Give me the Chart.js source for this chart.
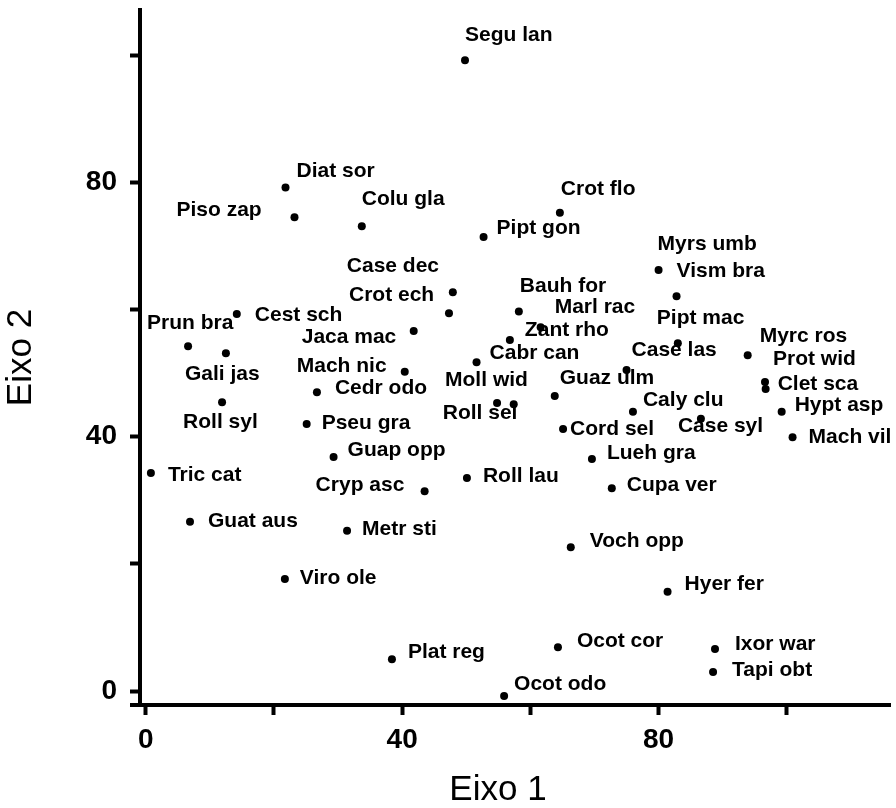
<!DOCTYPE html>
<html lang="pt">
<head>
  <meta charset="UTF-8" />
  <title>Eixo 1 x Eixo 2</title>
  <script src="https://cdn.jsdelivr.net/npm/chart.js"></script>
  <style>
    body {
      margin: 0;
      padding: 0;
      background: #fff;
    }
    #wrap {
      width: 896px;
      height: 808px;
    }
  </style>
</head>
<body>
  <div id="wrap">
    <canvas id="ordChart"></canvas>
  </div>

  <script>
    // species codes
    const species = [
      'Segu lan', 'Diat sor', 'Piso zap', 'Colu gla', 'Crot flo', 'Pipt gon',
      'Myrs umb', 'Vism bra', 'Case dec', 'Crot ech', 'Bauh for', 'Marl rac',
      'Cest sch', 'Prun bra', 'Pipt mac', 'Myrc ros', 'Zant rho', 'Jaca mac',
      'Cabr can', 'Case las', 'Prot wid', 'Mach nic', 'Gali jas', 'Moll wid',
      'Guaz ulm', 'Clet sca', 'Cedr odo', 'Caly clu', 'Hypt asp', 'Roll syl',
      'Roll sel', 'Cord sel', 'Case syl', 'Pseu gra', 'Mach vil', 'Guap opp',
      'Lueh gra', 'Tric cat', 'Cryp asc', 'Roll lau', 'Cupa ver', 'Guat aus',
      'Metr sti', 'Voch opp', 'Viro ole', 'Hyer fer', 'Ocot cor', 'Ixor war',
      'Plat reg', 'Tapi obt', 'Ocot odo'
    ];

    // Eixo 1 scores
    const eixo1 = [
      49.8, 21.8, 23.2, 33.7, 64.6, 52.7,
      80.0, 82.8, 47.9, 47.3, 58.2, 61.6,
      14.2, 6.6, 83.0, 93.9, 56.8, 41.8,
      51.6, 75.0, 96.6, 40.4, 12.5, 54.8,
      63.8, 96.7, 26.7, 76.0, 99.2, 11.9,
      57.4, 65.1, 86.6, 25.1, 100.9, 29.3,
      69.6, 0.8, 43.5, 50.1, 72.7, 6.9,
      31.4, 66.3, 21.7, 81.4, 64.3, 88.8,
      38.4, 88.5, 55.9
    ];

    // Eixo 2 scores
    const eixo2 = [
      99.2, 79.2, 74.5, 73.1, 75.2, 71.4,
      66.2, 62.1, 62.7, 59.4, 59.7, 57.2,
      59.3, 54.2, 54.7, 52.8, 55.2, 56.6,
      51.7, 50.5, 48.6, 50.2, 53.1, 45.3,
      46.4, 47.5, 47.0, 43.9, 43.9, 45.4,
      45.1, 41.2, 42.8, 42.0, 39.9, 36.8,
      36.5, 34.3, 31.4, 33.5, 31.9, 26.6,
      25.2, 22.6, 17.6, 15.6, 6.9, 6.6,
      5.0, 3.0, -0.8
    ];

    const tickValues = [0, 20, 40, 60, 80, 100];
    const labelledTicks = [0, 40, 80];

    // where each name sits relative to its dot (px)
    const labelOffsets = [
      [0, -25], [11, -16], [-118, -7], [0, -27], [1, -24], [13, -9],
      [-1, -26], [0, -25], [-106, -26], [-100, -18], [1, -25], [14, -20],
      [18, 1], [-41, -23], [-21, -25], [12, -19], [15, -10], [-112, 6],
      [13, -9], [5, -20], [8, -23], [-108, -6], [-41, 21], [-52, -23],
      [5, -18], [12, -5], [18, -4], [10, -12], [13, -7], [-39, 20],
      [-71, 9], [7, 0], [-23, 7], [15, -1], [16, 0], [14, -7],
      [15, -6], [17, 2], [-109, -6], [16, -2], [15, -3], [18, -1],
      [15, -2], [19, -6], [15, -1], [17, -8], [19, -6], [20, -5],
      [16, -7], [19, -2], [10, -12]
    ];

    const FONT = 'Liberation Sans, Arial, Helvetica, sans-serif';

    const points = eixo1.map((x, i) => ({ x: x, y: eixo2[i] }));

    // names next to the dots
    const nameLabels = {
      id: 'nameLabels',
      afterDatasetsDraw(chart) {
        const ctx = chart.ctx;
        const meta = chart.getDatasetMeta(0);
        ctx.save();
        ctx.fillStyle = '#000';
        ctx.font = 'bold 21px ' + FONT;
        ctx.textAlign = 'left';
        ctx.textBaseline = 'middle';
        meta.data.forEach((pt, i) => {
          const off = labelOffsets[i];
          ctx.fillText(species[i], pt.x + off[0], pt.y + off[1]);
        });
        ctx.restore();
      }
    };

    // x title sits a bit left of centre + x axis runs a little past the y axis
    const axisExtras = {
      id: 'axisExtras',
      afterDraw(chart) {
        const ctx = chart.ctx;
        const area = chart.chartArea;
        ctx.save();
        ctx.strokeStyle = '#000';
        ctx.lineWidth = 4;
        ctx.beginPath();
        ctx.moveTo(area.left - 10, area.bottom);
        ctx.lineTo(area.left, area.bottom);
        ctx.stroke();

        ctx.fillStyle = '#000';
        ctx.font = '35px ' + FONT;
        ctx.textAlign = 'center';
        ctx.textBaseline = 'middle';
        ctx.fillText('Eixo 1', (area.left + area.right) / 2 - 17, 790);
        ctx.restore();
      }
    };

    const axisGrid = {
      display: true,
      drawOnChartArea: false,
      drawTicks: true,
      tickLength: 10,
      tickWidth: 4,
      tickColor: '#000'
    };

    const ctx = document.getElementById('ordChart').getContext('2d');
    new Chart(ctx, {
      type: 'scatter',
      data: {
        datasets: [{
          data: points,
          backgroundColor: '#000',
          borderWidth: 0,
          pointRadius: 4,
          pointHoverRadius: 4
        }]
      },
      plugins: [nameLabels, axisExtras],
      options: {
        responsive: true,
        maintainAspectRatio: false,
        animation: false,
        layout: {
          padding: { top: 10, right: 6, bottom: 0, left: 0 }
        },
        plugins: {
          legend: { display: false },
          tooltip: { enabled: false }
        },
        scales: {
          x: {
            type: 'linear',
            min: -0.9,
            max: 116.1,
            grid: axisGrid,
            border: { display: true, width: 4, color: '#000' },
            afterBuildTicks: (scale) => {
              scale.ticks = tickValues.map(v => ({ value: v }));
            },
            afterFit: (scale) => {
              scale.height = 103;
              scale.paddingLeft = 0;
              scale.paddingRight = 0;
            },
            ticks: {
              color: '#000',
              padding: 8,
              maxRotation: 0,
              font: { family: FONT, size: 28, weight: 'bold' },
              callback: (v) => labelledTicks.includes(v) ? String(v) : ''
            }
          },
          y: {
            type: 'linear',
            min: -2.2,
            max: 107.1,
            grid: axisGrid,
            border: { display: true, width: 4, color: '#000' },
            afterBuildTicks: (scale) => {
              scale.ticks = tickValues.map(v => ({ value: v }));
            },
            afterFit: (scale) => {
              scale.width = 140;
              scale.paddingTop = 0;
              scale.paddingBottom = 0;
            },
            ticks: {
              color: '#000',
              padding: 13,
              font: { family: FONT, size: 28, weight: 'bold' },
              callback: (v) => labelledTicks.includes(v) ? String(v) : ''
            },
            title: {
              display: true,
              text: 'Eixo 2',
              color: '#000',
              padding: 0,
              font: { family: FONT, size: 35 }
            }
          }
        }
      }
    });
  </script>
</body>
</html>
